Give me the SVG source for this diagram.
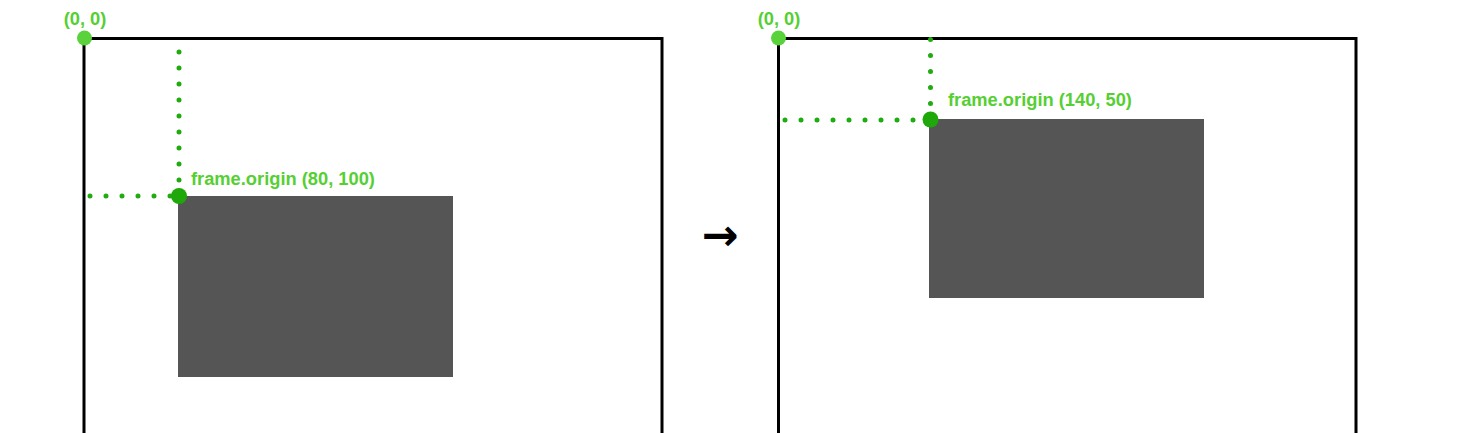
<svg xmlns="http://www.w3.org/2000/svg" width="1476" height="433" viewBox="0 0 1476 433">
<style>
.frame{fill:none;stroke:#000;stroke-width:3}
.view{fill:#555555}
.dots{stroke:#22aa11;stroke-width:5;stroke-linecap:round;stroke-dasharray:0 16;fill:none}
.o0{fill:#5ad23c}
.od{fill:#1ea80a}
.lbl{font-family:"Liberation Sans",Arial,sans-serif;font-weight:bold;font-size:18.3px;fill:#55cf33}
.arr{font-family:"DejaVu Sans",sans-serif;font-weight:bold;font-size:44px;fill:#000}
</style>
<rect width="1476" height="433" fill="#fff"/>
<g id="left-panel">
  <path class="frame" d="M84,440 V38.5 H662 V440"/>
  <rect class="view" x="178" y="196" width="275" height="181"/>
</g>
<g id="right-panel">
  <path class="frame" d="M778.5,440 V38.5 H1356 V440"/>
  <rect class="view" x="929" y="119" width="275" height="179"/>
</g>
<g id="connectors">
  <path class="dots" d="M179,180 V48"/>
  <path class="dots" d="M170,196 H84"/>
  <path class="dots" d="M930.5,103.5 V38"/>
  <path class="dots" d="M913,120 H780"/>
</g>
<g id="left-origin">
  <circle class="o0" cx="84.5" cy="38" r="7.5"/>
  <text class="lbl" x="85" y="25" text-anchor="middle">(0, 0)</text>
</g>
<g id="left-frame-origin">
  <circle class="od" cx="179" cy="196" r="8"/>
  <text class="lbl" x="191" y="185">frame.origin (80, 100)</text>
</g>
<g id="right-origin">
  <circle class="o0" cx="778.5" cy="38" r="7.5"/>
  <text class="lbl" x="779" y="25" text-anchor="middle">(0, 0)</text>
</g>
<g id="right-frame-origin">
  <circle class="od" cx="930.5" cy="119.5" r="8"/>
  <text class="lbl" x="948" y="106">frame.origin (140, 50)</text>
</g>
<g id="arrow">
  <text class="arr" x="720" y="250" text-anchor="middle">→</text>
</g>
</svg>
